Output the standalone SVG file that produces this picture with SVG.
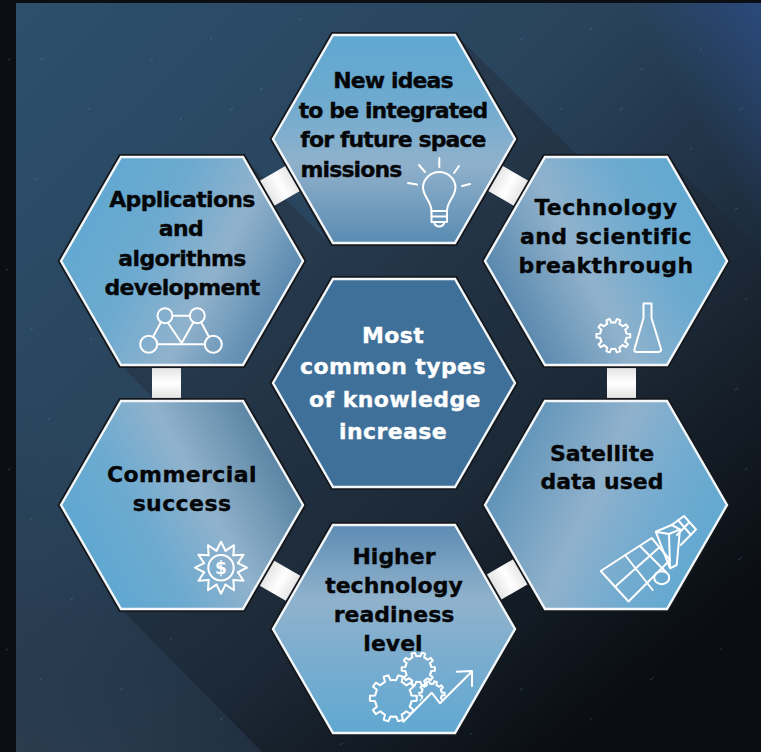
<svg xmlns="http://www.w3.org/2000/svg" xmlns:xlink="http://www.w3.org/1999/xlink" width="761" height="752" viewBox="0 0 761 752">
<style>
.t{font-family:"DejaVu Sans","Liberation Sans",sans-serif;font-weight:700;font-size:22px;text-anchor:middle;fill:#050608;stroke:#050608;stroke-width:.35px}
.w{fill:#fff;stroke:#fff}
.n{letter-spacing:-.9px}
.a{letter-spacing:-.65px}
.p{letter-spacing:.4px}
.o{fill:none;stroke:#14181d;stroke-width:6;stroke-linejoin:miter}
.h{stroke:#f4f7f9;stroke-width:2.4;stroke-linejoin:miter}
.i{fill:none;stroke:#fff;stroke-width:2;stroke-linecap:round;stroke-linejoin:round}
.g{vector-effect:non-scaling-stroke}
</style>
<defs>
<linearGradient id="bg" gradientUnits="userSpaceOnUse" x1="20" y1="20" x2="700" y2="740"><stop offset="0" stop-color="#2c4f6c"/><stop offset=".4" stop-color="#29435b"/><stop offset=".72" stop-color="#1a2737"/><stop offset="1" stop-color="#0b0e13"/></linearGradient>
<linearGradient id="bgc" gradientUnits="userSpaceOnUse" x1="761" y1="0" x2="660" y2="60"><stop offset="0" stop-color="#2b4a7c"/><stop offset="1" stop-color="#2b4a7c" stop-opacity="0"/></linearGradient>
<linearGradient id="bl" gradientUnits="userSpaceOnUse" x1="16" y1="752" x2="200" y2="560"><stop offset="0" stop-color="#2a3c4e"/><stop offset="1" stop-color="#2a3c4e" stop-opacity="0"/></linearGradient>
<linearGradient id="sh" gradientUnits="userSpaceOnUse" x1="330" y1="230" x2="690" y2="660"><stop offset="0" stop-color="#26394d"/><stop offset=".5" stop-color="#1c2937"/><stop offset="1" stop-color="#090c10"/></linearGradient>
<linearGradient id="cn"><stop offset="0" stop-color="#8f8f8f"/><stop offset=".12" stop-color="#e6e6e6"/><stop offset=".5" stop-color="#ffffff"/><stop offset=".88" stop-color="#e6e6e6"/><stop offset="1" stop-color="#858585"/></linearGradient>
<linearGradient id="gT" x1="0" y1="0" x2="0" y2="1"><stop offset="0" stop-color="#5fa8d1"/><stop offset=".3" stop-color="#6daad0"/><stop offset=".62" stop-color="#90b1cb"/><stop offset="1" stop-color="#5a8bb2"/></linearGradient>
<linearGradient id="gB" x1="0" y1="0" x2="0" y2="1"><stop offset="0" stop-color="#5d8cb3"/><stop offset=".36" stop-color="#90b2cc"/><stop offset=".7" stop-color="#76acd0"/><stop offset="1" stop-color="#60a8d1"/></linearGradient>
<linearGradient id="gA" x1="0" y1=".3" x2="1" y2=".75"><stop offset="0" stop-color="#5fa8d1"/><stop offset=".35" stop-color="#6daad0"/><stop offset=".62" stop-color="#90b2cc"/><stop offset="1" stop-color="#4a7ca5"/></linearGradient>
<linearGradient id="gS" x1="1" y1=".3" x2="0" y2=".75"><stop offset="0" stop-color="#5fa8d1"/><stop offset=".3" stop-color="#6daad0"/><stop offset=".58" stop-color="#90b2cc"/><stop offset="1" stop-color="#4a7ca5"/></linearGradient>
<linearGradient id="gC" x1=".95" y1=".3" x2=".1" y2=".7"><stop offset="0" stop-color="#55809f"/><stop offset=".42" stop-color="#90b2cc"/><stop offset=".72" stop-color="#6daad0"/><stop offset="1" stop-color="#60a8d1"/></linearGradient>
<linearGradient id="gD" x1=".05" y1=".35" x2=".95" y2=".7"><stop offset="0" stop-color="#5f93b8"/><stop offset=".42" stop-color="#8fb1cc"/><stop offset=".72" stop-color="#72abd0"/><stop offset="1" stop-color="#60a8d1"/></linearGradient>
<polygon id="hex" points="-121,0 -61,-104 61,-104 121,0 61,104 -61,104"/>
<path id="tooth" class="g" d="M7.42,-2.41L7.7,-1.22L9.95,-1.05L9.95,1.05L7.7,1.22L7.42,2.41"/>
<g id="gear"><use xlink:href="#tooth"/><use xlink:href="#tooth" transform="rotate(36)"/><use xlink:href="#tooth" transform="rotate(72)"/><use xlink:href="#tooth" transform="rotate(108)"/><use xlink:href="#tooth" transform="rotate(144)"/><use xlink:href="#tooth" transform="rotate(180)"/><use xlink:href="#tooth" transform="rotate(216)"/><use xlink:href="#tooth" transform="rotate(252)"/><use xlink:href="#tooth" transform="rotate(288)"/><use xlink:href="#tooth" transform="rotate(324)"/></g>
<path id="spike" d="M16.9,-4.53L26,0L16.9,4.53"/>
<clipPath id="smallClip"><polygon points="416,668 452,668 452,698 441,700 432,689 419,702"/></clipPath>
<clipPath id="bigClip"><polygon points="360,668 440,668 424,701 403,722 360,725"/></clipPath>
</defs>

<g id="background">
<rect width="761" height="752" fill="#0b0f14"/>
<rect x="16" y="3" width="745" height="749" fill="url(#bg)"/>
<rect x="16" y="3" width="745" height="749" fill="url(#bgc)"/>
<rect x="16" y="3" width="745" height="749" fill="url(#bl)"/>
<polygon fill="url(#sh)" points="456,35 590,168 667,157 761,252 761,752 262,752 121,609 182,505 152,397 121,365 182,261 243,157 326,240 272,139 332,90"/>
<path fill="none" stroke="#6f9dc0" stroke-width="1" stroke-linecap="round" opacity=".3" d="M40,60l3,-2M88,110l2,-2M35,180l3,-2M70,260l2,-1M30,330l3,-2M48,420l2,-2M95,450l3,-2M30,520l2,-2M70,600l3,-2M40,680l2,-2M120,690l3,-2M170,640l2,-2M220,720l3,-2M150,60l3,-2M210,40l2,-2M260,90l3,-2M180,120l2,-2M230,110l3,-2M300,20l2,-2M520,40l3,-2M590,30l2,-2M640,70l3,-2M700,50l2,-2M740,110l3,-2M690,150l2,-2M735,210l3,-2M560,110l2,-2M620,110l3,-2M745,300l2,-2M735,390l3,-2M745,470l2,-2M738,560l3,-2M720,650l2,-2M650,680l3,-2M590,720l2,-2M520,690l3,-2M470,735l2,-2M340,745l3,-2M8,60l2,-1M6,270l2,-1M8,470l2,-1M6,650l2,-1M115,190l3,-2M90,340l2,-2"/>
</g>

<g id="connectors">
<rect x="-18" y="-14.5" width="36" height="29" fill="url(#cn)" transform="translate(166.5,383) rotate(90)"/>
<rect x="-18" y="-14.5" width="36" height="29" fill="url(#cn)" transform="translate(621.5,383) rotate(90)"/>
<rect x="-20" y="-14.5" width="40" height="29" fill="url(#cn)" transform="translate(280.5,185.5) rotate(-30)"/>
<rect x="-20" y="-14.5" width="40" height="29" fill="url(#cn)" transform="translate(508.5,186) rotate(30)"/>
<rect x="-20" y="-14.5" width="40" height="29" fill="url(#cn)" transform="translate(280.5,581) rotate(30)"/>
<rect x="-20" y="-14.5" width="40" height="29" fill="url(#cn)" transform="translate(508,579) rotate(-30)"/>
</g>

<g id="node-center">
<use xlink:href="#hex" class="o" transform="translate(394,383)"/>
<use xlink:href="#hex" class="h" fill="#3f7099" transform="translate(394,383)"/>
<text class="t w p" x="393" y="342.5">Most</text>
<text class="t w p" x="393" y="374">common types</text>
<text class="t w p" x="395" y="406.5">of knowledge</text>
<text class="t w p" x="393" y="438.5">increase</text>
</g>

<g id="node-new-ideas">
<use xlink:href="#hex" class="o" transform="translate(394,139)"/>
<use xlink:href="#hex" class="h" fill="url(#gT)" transform="translate(394,139)"/>
<text class="t n" x="393" y="88">New ideas</text>
<text class="t n" x="393" y="117.5">to be integrated</text>
<text class="t n" x="393" y="147">for future space</text>
<text class="t n" x="351" y="176.5">missions</text>
<g class="i">
<path d="M439.3,158V167M419,165L425,172M459,166L454,173M408,183L417,184.5M470,184L462,186"/>
<path d="M431.5,211C431.5,201 423,197 423,187A16.3,16.3 0 0 1 455.5,187C455.5,197 447,201 447,211Z"/>
<rect x="431.5" y="211" width="15.5" height="11"/>
<path d="M431.5,216.5H447M434,222A5.5,6.5 0 0 0 444.5,222"/>
</g>
</g>

<g id="node-applications">
<use xlink:href="#hex" class="o" transform="translate(182,261)"/>
<use xlink:href="#hex" class="h" fill="url(#gA)" transform="translate(182,261)"/>
<text class="t a" x="182" y="206.5">Applications</text>
<text class="t a" x="181" y="236">and</text>
<text class="t a" x="182" y="266">algorithms</text>
<text class="t a" x="182" y="295">development</text>
<g class="i">
<circle cx="165" cy="315.7" r="7.5"/><circle cx="197.3" cy="315.7" r="7.5"/>
<circle cx="148.7" cy="344.3" r="8.5"/><circle cx="213.3" cy="344.3" r="8.5"/>
<path d="M172.5,315.7H189.8M157.2,344.3H204.8M161,322L153,337M168,323L181.7,343L193.5,322M201,322L209,337"/>
</g>
</g>

<g id="node-technology">
<use xlink:href="#hex" class="o" transform="translate(606,261)"/>
<use xlink:href="#hex" class="h" fill="url(#gS)" transform="translate(606,261)"/>
<text class="t p" x="606" y="214.5">Technology</text>
<text class="t p" x="606" y="243.5">and scientific</text>
<text class="t p" x="606" y="273">breakthrough</text>
<g class="i">
<use xlink:href="#gear" transform="translate(613.3,335.7) scale(1.7)"/>
<path d="M643.5,303.5H651.5V318L661,349Q661.5,352 658,352H637Q633.5,352 634.5,349L643.5,318Z"/>
</g>
</g>

<g id="node-satellite">
<use xlink:href="#hex" class="o" transform="translate(606,505)"/>
<use xlink:href="#hex" class="h" fill="url(#gD)" transform="translate(606,505)"/>
<text class="t" x="602" y="460.5">Satellite</text>
<text class="t" x="602" y="489">data used</text>
<g class="i">
<path d="M600.7,571L651.7,538L670,560L628.5,601.5Z"/>
<path d="M625,555L652.7,590M640,546L666,572M615,586.7L658.3,548.3"/>
<path d="M671.7,525L684,516L696,529.5L680.7,545M678,520L691,535M677,535L689.5,522"/>
<path d="M655.7,531.7L671.7,525L680,529.3L676.7,565L670,568.3ZM655.7,531.7L669,534L680,529.3M669,534L670,568.3"/>
<ellipse cx="661.7" cy="577.7" rx="7.5" ry="6.5"/>
</g>
</g>

<g id="node-readiness">
<use xlink:href="#hex" class="o" transform="translate(394,629)"/>
<use xlink:href="#hex" class="h" fill="url(#gB)" transform="translate(394,629)"/>
<text class="t" x="394" y="563.5">Higher</text>
<text class="t" x="394" y="592.5">technology</text>
<text class="t" x="394" y="621.5">readiness</text>
<text class="t" x="393" y="651">level</text>
<g class="i">
<g clip-path="url(#bigClip)"><use xlink:href="#gear" transform="translate(393.3,698.3) scale(2.35)"/></g>
<use xlink:href="#gear" transform="translate(418.3,669) scale(1.67)"/>
<g clip-path="url(#smallClip)"><use xlink:href="#gear" transform="translate(431.7,694) scale(1.3)"/></g>
<path d="M403.3,721.7L431.7,692.7L440,703.3L471.7,671.7M456.7,671.7L472,671V686"/>
</g>
</g>

<g id="node-commercial">
<use xlink:href="#hex" class="o" transform="translate(182,505)"/>
<use xlink:href="#hex" class="h" fill="url(#gC)" transform="translate(182,505)"/>
<text class="t p" x="182" y="482">Commercial</text>
<text class="t p" x="182" y="511">success</text>
<g class="i" transform="translate(221,567.7)">
<use xlink:href="#spike"/><use xlink:href="#spike" transform="rotate(30)"/><use xlink:href="#spike" transform="rotate(60)"/><use xlink:href="#spike" transform="rotate(90)"/><use xlink:href="#spike" transform="rotate(120)"/><use xlink:href="#spike" transform="rotate(150)"/><use xlink:href="#spike" transform="rotate(180)"/><use xlink:href="#spike" transform="rotate(210)"/><use xlink:href="#spike" transform="rotate(240)"/><use xlink:href="#spike" transform="rotate(270)"/><use xlink:href="#spike" transform="rotate(300)"/><use xlink:href="#spike" transform="rotate(330)"/>
<circle r="12.7"/>
</g>
<text x="221" y="574" text-anchor="middle" fill="#fff" font-family="'DejaVu Sans',sans-serif" font-weight="700" font-size="17">$</text>
</g>
</svg>
